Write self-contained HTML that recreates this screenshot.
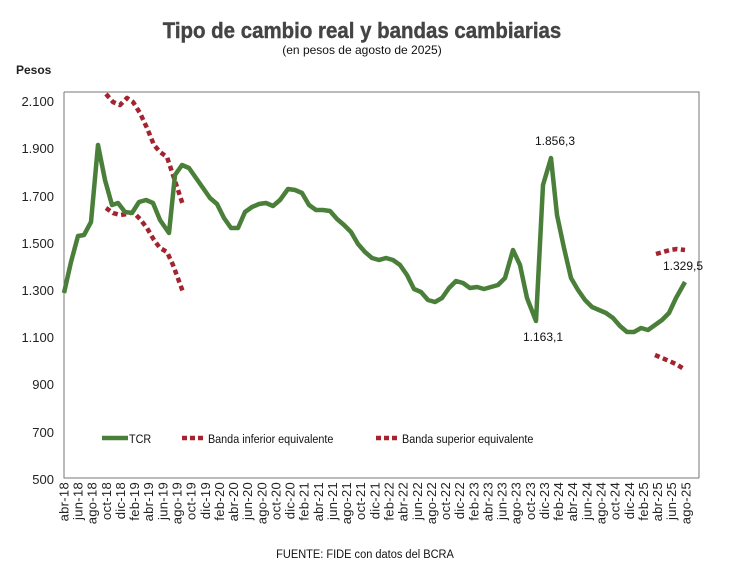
<!DOCTYPE html>
<html><head><meta charset="utf-8"><style>body{margin:0;background:#fff}svg{display:block}</style></head>
<body>
<svg width="751" height="580" xmlns="http://www.w3.org/2000/svg" font-family="Liberation Sans, sans-serif">
<rect width="751" height="580" fill="#fff"/>
<text x="362" y="38" text-anchor="middle" font-size="22" font-weight="bold" fill="#444" stroke="#444" stroke-width="0.4" transform="translate(362 0) scale(0.93 1) translate(-362 0)">Tipo de cambio real y bandas cambiarias</text>
<text x="362" y="54" text-anchor="middle" font-size="12" fill="#111">(en pesos de agosto de 2025)</text>
<text x="16" y="74" font-size="12" font-weight="bold" fill="#222">Pesos</text>
<g font-size="13" fill="#222" text-anchor="end">
<text x="54" y="106">2.100</text><text x="54" y="153">1.900</text><text x="54" y="201">1.700</text><text x="54" y="248">1.500</text><text x="54" y="295">1.300</text><text x="54" y="342">1.100</text><text x="54" y="389">900</text><text x="54" y="437">700</text><text x="54" y="484">500</text>
</g>
<path d="M64 92H699V478M64 92V478H699" fill="none" stroke="#777" stroke-width="1"/>
<g fill="none" stroke="#a3242f" stroke-width="4.5" stroke-dasharray="5 3.5" stroke-linejoin="round">
<polyline points="106,208 113,213 120,215 127,214 133,212 140,219 147,228 154,240 160,248 167,252 173,265 183,292"/>
<polyline points="106,94 113,102 120,105 127,98 133,102 140,113 147,128 154,145 160,152 167,157 173,175 183,205"/>
<polyline points="656,254 663,252 670,250 677,249 685,250"/>
<polyline points="655,355 662,358 669,361 676,364 684,369"/>
</g>
<polyline fill="none" stroke="#4a7f3a" stroke-width="4.5" stroke-linejoin="round" points="64,293 71,262 78,236 84,235 91,222 98,145 105,180 112,205 118,203 125,212 132,213 139,202 146,200 153,203 160,220 169,233 175,175 182,165 189,168 196,178 203,188 210,198 217,204 224,218 231,228 238,228 245,212 252,207 259,204 266,203 273,206 280,200 288,189 295,190 302,193 309,205 316,210 323,210 330,211 337,219 344,225 351,232 358,244 365,252 372,258 379,260 386,258 393,260 400,265 407,275 414,289 421,292 428,300 435,302 442,298 449,288 456,281 463,283 470,288 477,287 484,289 491,287 498,285 505,278 513,250 520,265 527,298 536,321 543,185 551,158 557,215 564,248 571,278 578,290 585,300 592,307 599,310 606,313 613,318 620,326 627,332 634,332 641,328 648,330 655,325 662,320 669,313 676,298 685,282"/>
<g font-size="12" fill="#111" text-anchor="middle">
<text x="555" y="145">1.856,3</text><text x="543" y="341">1.163,1</text><text x="683" y="270">1.329,5</text>
</g>
<line x1="102" y1="438" x2="128" y2="438" stroke="#4a7f3a" stroke-width="4.5"/>
<text x="129" y="443" font-size="12" fill="#111" transform="translate(129 0) scale(0.9 1) translate(-129 0)">TCR</text>
<line x1="182" y1="438" x2="206" y2="438" stroke="#a3242f" stroke-width="4.5" stroke-dasharray="5 3"/>
<text x="208" y="443" font-size="12" fill="#111" transform="translate(208 0) scale(0.9 1) translate(-208 0)">Banda inferior equivalente</text>
<line x1="376" y1="438" x2="400" y2="438" stroke="#a3242f" stroke-width="4.5" stroke-dasharray="5 3"/>
<text x="402" y="443" font-size="12" fill="#111" transform="translate(402 0) scale(0.9 1) translate(-402 0)">Banda superior equivalente</text>
<text x="365" y="558" text-anchor="middle" font-size="12" fill="#111" transform="translate(365 0) scale(0.92 1) translate(-365 0)">FUENTE: FIDE con datos del BCRA</text>
<g font-size="13" fill="#222" text-anchor="end" letter-spacing="0.3">
<text transform="translate(68.5 482) rotate(-90)">abr-18</text>
<text transform="translate(82.6 482) rotate(-90)">jun-18</text>
<text transform="translate(96.7 482) rotate(-90)">ago-18</text>
<text transform="translate(110.8 482) rotate(-90)">oct-18</text>
<text transform="translate(125 482) rotate(-90)">dic-18</text>
<text transform="translate(139.1 482) rotate(-90)">feb-19</text>
<text transform="translate(153.2 482) rotate(-90)">abr-19</text>
<text transform="translate(167.4 482) rotate(-90)">jun-19</text>
<text transform="translate(181.5 482) rotate(-90)">ago-19</text>
<text transform="translate(195.6 482) rotate(-90)">oct-19</text>
<text transform="translate(209.8 482) rotate(-90)">dic-19</text>
<text transform="translate(223.9 482) rotate(-90)">feb-20</text>
<text transform="translate(238 482) rotate(-90)">abr-20</text>
<text transform="translate(252.2 482) rotate(-90)">jun-20</text>
<text transform="translate(266.3 482) rotate(-90)">ago-20</text>
<text transform="translate(280.4 482) rotate(-90)">oct-20</text>
<text transform="translate(294.6 482) rotate(-90)">dic-20</text>
<text transform="translate(308.7 482) rotate(-90)">feb-21</text>
<text transform="translate(322.8 482) rotate(-90)">abr-21</text>
<text transform="translate(337 482) rotate(-90)">jun-21</text>
<text transform="translate(351.1 482) rotate(-90)">ago-21</text>
<text transform="translate(365.2 482) rotate(-90)">oct-21</text>
<text transform="translate(379.4 482) rotate(-90)">dic-21</text>
<text transform="translate(393.5 482) rotate(-90)">feb-22</text>
<text transform="translate(407.6 482) rotate(-90)">abr-22</text>
<text transform="translate(421.8 482) rotate(-90)">jun-22</text>
<text transform="translate(435.9 482) rotate(-90)">ago-22</text>
<text transform="translate(450 482) rotate(-90)">oct-22</text>
<text transform="translate(464.2 482) rotate(-90)">dic-22</text>
<text transform="translate(478.3 482) rotate(-90)">feb-23</text>
<text transform="translate(492.4 482) rotate(-90)">abr-23</text>
<text transform="translate(506.6 482) rotate(-90)">jun-23</text>
<text transform="translate(520.7 482) rotate(-90)">ago-23</text>
<text transform="translate(534.8 482) rotate(-90)">oct-23</text>
<text transform="translate(549 482) rotate(-90)">dic-23</text>
<text transform="translate(563.1 482) rotate(-90)">feb-24</text>
<text transform="translate(577.2 482) rotate(-90)">abr-24</text>
<text transform="translate(591.4 482) rotate(-90)">jun-24</text>
<text transform="translate(605.5 482) rotate(-90)">ago-24</text>
<text transform="translate(619.6 482) rotate(-90)">oct-24</text>
<text transform="translate(633.8 482) rotate(-90)">dic-24</text>
<text transform="translate(647.9 482) rotate(-90)">feb-25</text>
<text transform="translate(662 482) rotate(-90)">abr-25</text>
<text transform="translate(676.2 482) rotate(-90)">jun-25</text>
<text transform="translate(690.3 482) rotate(-90)">ago-25</text>
</g>
</svg>
</body></html>
